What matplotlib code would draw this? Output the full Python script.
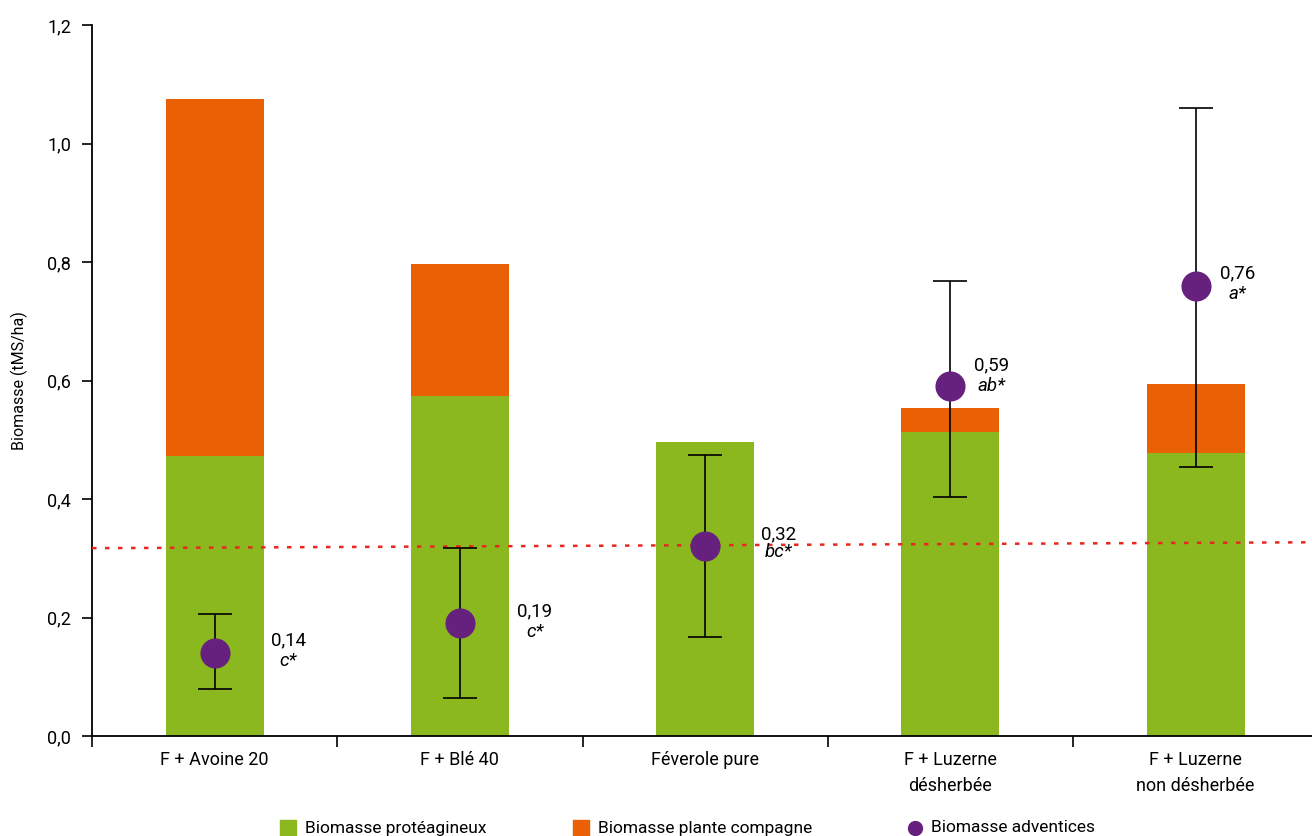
import matplotlib
matplotlib.use("Agg")
import matplotlib.pyplot as plt
import matplotlib.font_manager as fm
from matplotlib.patches import Rectangle
from matplotlib.ticker import FuncFormatter, FixedLocator

# --- data -------------------------------------------------------------
categories = ["F + Avoine 20", "F + Blé 40", "Féverole pure",
              "F + Luzerne\ndésherbée", "F + Luzerne\nnon désherbée"]
biomasse_proteagineux = [0.472, 0.574, 0.497, 0.513, 0.478]
biomasse_compagne = [0.603, 0.223, 0.0, 0.041, 0.116]
biomasse_adventices = [0.14, 0.19, 0.32, 0.59, 0.76]
adventices_bas = [0.079, 0.064, 0.167, 0.403, 0.454]
adventices_haut = [0.206, 0.317, 0.474, 0.768, 1.060]
lettres = ["c*", "c*", "bc*", "ab*", "a*"]
seuil_debut, seuil_fin = 0.317, 0.327
y_ticks = [0.0, 0.2, 0.4, 0.6, 0.8, 1.0, 1.2]

# --- style ------------------------------------------------------------
available = {f.name for f in fm.fontManager.ttflist}
family = "Liberation Sans Narrow" if "Liberation Sans Narrow" in available else "Roboto"
plt.rcParams["font.family"] = [family, "DejaVu Sans"]

GREEN = "#8BB71F"
ORANGE = "#EA6005"
PURPLE = "#66217F"
RED = "#E8281E"

W, H = 1312, 836
fig = plt.figure(figsize=(W / 100, H / 100), dpi=100)
ax = fig.add_axes([92 / W, 1 - 736 / H, 1226.25 / W, (736 - 25) / H])

x = list(range(len(categories)))
ax.bar(x, biomasse_proteagineux, width=0.40, color=GREEN, zorder=2)
ax.bar(x, biomasse_compagne, width=0.40, bottom=biomasse_proteagineux,
       color=ORANGE, zorder=2)

# threshold line
ax.plot([-0.5, 4.5], [seuil_debut, seuil_fin], color=RED, lw=1.8,
        ls=(0, (1.8, 3.4)), zorder=3)

# weeds biomass with intervals
yerr = [[v - lo for v, lo in zip(biomasse_adventices, adventices_bas)],
        [hi - v for v, hi in zip(biomasse_adventices, adventices_haut)]]
ax.errorbar(x, biomasse_adventices, yerr=yerr, fmt="none", ecolor="black",
            elinewidth=1.2, capsize=12, capthick=1.2, zorder=4)
ax.scatter(x, biomasse_adventices, s=470, color=PURPLE, zorder=5, linewidths=0)

# value labels (offsets in points)
label_dx = [53, 54, 53, 30, 30]
label_dy_val = [9, 9, 9, 15, 9]
label_dy_let = [-6, -6, -4, 0, -6]
for xi, v, let, dx, dyv, dyl in zip(x, biomasse_adventices, lettres,
                                      label_dx, label_dy_val, label_dy_let):
    ax.annotate(f"{v:.2f}".replace(".", ","), (xi, v), xytext=(dx, dyv),
                textcoords="offset points", ha="center", va="center",
                fontsize=13.5, zorder=6)
    ax.annotate(let, (xi, v), xytext=(dx, dyl), textcoords="offset points",
                ha="center", va="center", fontsize=13.5, style="italic",
                zorder=6)

# axes
ax.set_xlim(-0.5, 4.5)
ax.set_ylim(0, 1.2)
ax.yaxis.set_major_locator(FixedLocator(y_ticks))
ax.yaxis.set_major_formatter(FuncFormatter(lambda v, p: f"{v:.1f}".replace(".", ",")))
ax.set_xticks(x)
ax.set_xticklabels(categories, fontsize=13, linespacing=1.55)
ax.set_xticks([i - 0.5 for i in range(len(categories) + 1)], minor=True)
ax.tick_params(axis="x", which="major", length=0, pad=11)
ax.tick_params(axis="x", which="minor", length=8, width=1.2, direction="out")
ax.tick_params(axis="y", length=7, width=1.2, direction="out", labelsize=13, pad=8)
for side in ("top", "right"):
    ax.spines[side].set_visible(False)
for side in ("left", "bottom"):
    ax.spines[side].set_linewidth(1.3)
ax.set_ylabel("Biomasse (tMS/ha)", fontsize=11.5, labelpad=14)

# legend along the bottom edge
legend_y = 1 - 828 / H
sq = 16
fig.add_artist(Rectangle((280 / W, legend_y - sq / 2 / H), sq / W, sq / H,
                         transform=fig.transFigure, color=GREEN))
fig.text(305 / W, legend_y, "Biomasse protéagineux", fontsize=12.5, va="center")
fig.add_artist(Rectangle((573 / W, legend_y - sq / 2 / H), sq / W, sq / H,
                         transform=fig.transFigure, color=ORANGE))
fig.text(598 / W, legend_y, "Biomasse plante compagne", fontsize=12.5, va="center")
fig.add_artist(plt.Line2D([915 / W], [legend_y], marker="o", markersize=10,
                          color=PURPLE, transform=fig.transFigure, linestyle="none"))
fig.text(931 / W, legend_y, "Biomasse adventices", fontsize=12.5, va="center")

fig.savefig("out.png", dpi=100)
